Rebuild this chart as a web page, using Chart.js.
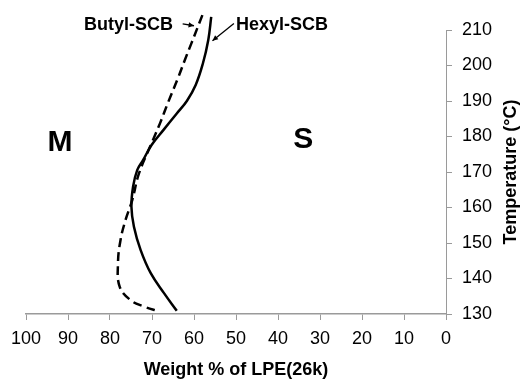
<!DOCTYPE html>
<html lang="en">
<head>
    <meta charset="UTF-8">
    <title>Weight % of LPE vs Temperature</title>
    <script src="https://cdn.jsdelivr.net/npm/chart.js"></script>
    <style>
        html, body { margin: 0; padding: 0; background: #fff; }
        #wrap { width: 526px; height: 380px; }
    </style>
</head>
<body>
    <div id="wrap"><canvas id="phaseChart" width="526" height="380"></canvas></div>

    <script>
        // Hexyl-SCB (solid): weight % and temperature
        const hexylWeight = [55.9, 56.6, 57.9, 59.6, 61.7, 64.1, 67.3, 70.1, 72.1, 73.5, 74.5, 74.9, 74.3, 72.7, 70.3, 67.1, 64.1];
        const hexylTemp   = [213.7, 207.2, 200.5, 194.5, 190.0, 186.5, 181.8, 177.6, 173.4, 170.6, 165.9, 160.2, 154.6, 148.0, 141.5, 135.8, 130.9];

        // Butyl-SCB (dashed)
        const butylWeight = [58.0, 60.6, 62.2, 63.7, 66.1, 68.1, 70.1, 73.1, 74.7, 76.3, 77.5, 78.1, 77.7, 75.1, 71.9, 68.3];
        const butylTemp   = [214.2, 206.3, 201.5, 196.8, 189.8, 183.7, 178.1, 169.6, 162.1, 156.5, 150.8, 144.3, 137.7, 133.9, 132.1, 130.7];

        const xTicks = [100, 90, 80, 70, 60, 50, 40, 30, 20, 10, 0];
        const yTicks = [130, 140, 150, 160, 170, 180, 190, 200, 210];

        const xTitle = 'Weight % of LPE(26k)';
        const yTitle = 'Temperature (°C)';

        function toPoints(xs, ys) {
            return xs.map((x, i) => ({ x: x, y: ys[i] }));
        }

        const FONT = "'Liberation Sans', Arial, sans-serif";
        const AXIS_GREY = '#9a9a9a';

        // text labels and arrows, placed in data units
        const notes = [
            { text: 'Butyl-SCB', x: 75.6, y: 211.4, size: 18 },
            { text: 'Hexyl-SCB', x: 50.0, y: 211.4, size: 18, align: 'left' },
            { text: 'M', x: 91.9, y: 178.2, size: 30 },
            { text: 'S', x: 34.0, y: 179.0, size: 30 }
        ];
        const arrows = [
            { from: [62.7, 211.7], to: [60.0, 211.2] },
            { from: [50.5, 211.8], to: [55.6, 207.0] }
        ];

        const notesPlugin = {
            id: 'notes',
            afterDatasetsDraw(chart) {
                const ctx = chart.ctx;
                const xs = chart.scales.x, ys = chart.scales.y;
                const area = chart.chartArea;
                ctx.save();
                ctx.fillStyle = '#000';
                ctx.textBaseline = 'middle';
                notes.forEach(n => {
                    ctx.font = 'bold ' + n.size + 'px ' + FONT;
                    ctx.textAlign = n.align || 'center';
                    ctx.fillText(n.text, xs.getPixelForValue(n.x), ys.getPixelForValue(n.y));
                });

                ctx.strokeStyle = '#000';
                ctx.lineWidth = 1.3;
                arrows.forEach(a => {
                    const x1 = xs.getPixelForValue(a.from[0]), y1 = ys.getPixelForValue(a.from[1]);
                    const x2 = xs.getPixelForValue(a.to[0]), y2 = ys.getPixelForValue(a.to[1]);
                    const ang = Math.atan2(y2 - y1, x2 - x1);
                    ctx.beginPath();
                    ctx.moveTo(x1, y1);
                    ctx.lineTo(x2, y2);
                    ctx.stroke();
                    ctx.beginPath();
                    ctx.moveTo(x2, y2);
                    ctx.lineTo(x2 - 6 * Math.cos(ang - 0.45), y2 - 6 * Math.sin(ang - 0.45));
                    ctx.lineTo(x2 - 6 * Math.cos(ang + 0.45), y2 - 6 * Math.sin(ang + 0.45));
                    ctx.closePath();
                    ctx.fill();
                });

                // axis titles
                ctx.font = 'bold 18px ' + FONT;
                ctx.textAlign = 'center';
                ctx.fillText(xTitle, (area.left + area.right) / 2, chart.height - 10);

                ctx.translate(area.right + 65, (area.top + area.bottom) / 2);
                ctx.rotate(-Math.PI / 2);
                ctx.fillText(yTitle, 0, 0);
                ctx.restore();
            }
        };

        const ctx = document.getElementById('phaseChart').getContext('2d');
        new Chart(ctx, {
            type: 'scatter',
            data: {
                datasets: [
                    {
                        label: 'Hexyl-SCB',
                        data: toPoints(hexylWeight, hexylTemp),
                        showLine: true,
                        borderColor: '#000',
                        borderWidth: 2.5,
                        pointRadius: 0,
                        tension: 0.4,
                        clip: false
                    },
                    {
                        label: 'Butyl-SCB',
                        data: toPoints(butylWeight, butylTemp),
                        showLine: true,
                        borderColor: '#000',
                        borderWidth: 2.5,
                        borderDash: [9, 5],
                        pointRadius: 0,
                        tension: 0.4,
                        clip: false
                    }
                ]
            },
            options: {
                responsive: false,
                animation: false,
                layout: { padding: { left: 26, top: 30, right: 0, bottom: 0 } },
                plugins: {
                    legend: { display: false },
                    tooltip: { enabled: false }
                },
                scales: {
                    x: {
                        type: 'linear',
                        position: 'bottom',
                        reverse: true,
                        min: 0,
                        max: 100,
                        afterFit: s => { s.height = 66; },
                        afterBuildTicks: s => { s.ticks = xTicks.map(v => ({ value: v })); },
                        grid: { drawOnChartArea: false, color: AXIS_GREY, tickLength: 6 },
                        border: { color: AXIS_GREY, width: 1.5 },
                        ticks: { color: '#000', font: { family: FONT, size: 18 }, padding: 8, maxRotation: 0 }
                    },
                    y: {
                        type: 'linear',
                        position: 'right',
                        min: 130,
                        max: 210,
                        afterFit: s => { s.width = 80; },
                        afterBuildTicks: s => { s.ticks = yTicks.map(v => ({ value: v })); },
                        grid: { drawOnChartArea: false, color: AXIS_GREY, tickLength: 6 },
                        border: { color: AXIS_GREY, width: 1 },
                        ticks: { color: '#000', font: { family: FONT, size: 18 }, padding: 10 }
                    }
                }
            },
            plugins: [notesPlugin]
        });
    </script>
</body>
</html>
